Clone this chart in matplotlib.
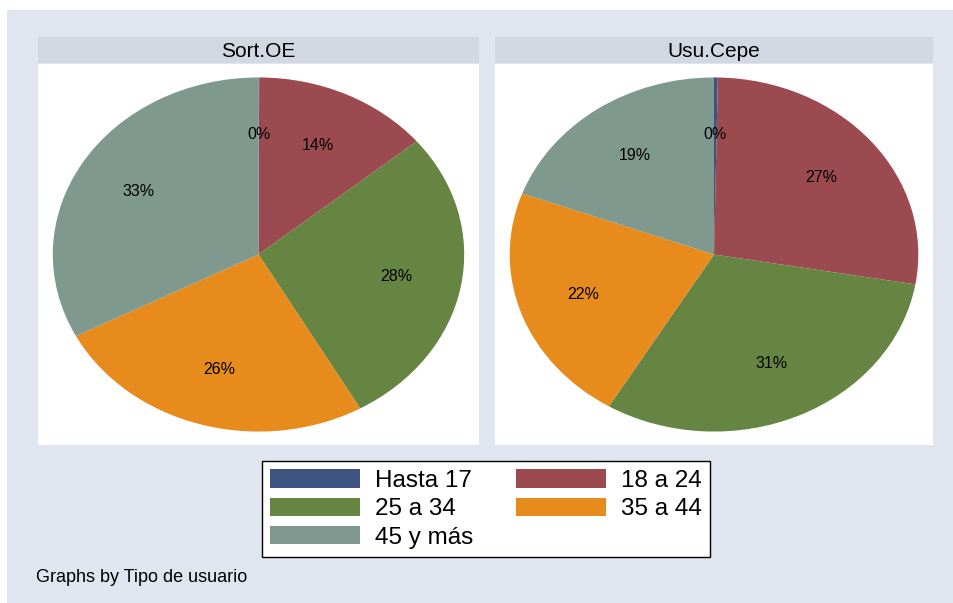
import matplotlib
matplotlib.use("Agg")
import matplotlib.pyplot as plt
from matplotlib.patches import Rectangle, Patch

plt.rcParams['font.family'] = ['Liberation Sans', 'DejaVu Sans']

groups = ["Sort.OE", "Usu.Cepe"]
age_labels = ["Hasta 17", "18 a 24", "25 a 34", "35 a 44", "45 y más"]
sort_oe = [0.05, 13.9, 27.8, 25.6, 32.6]
usu_cepe = [0.3, 27.4, 30.9, 22.0, 19.4]
colors = ["#3d5480", "#9b4a50", "#668542", "#e68b1c", "#7f998f"]

W, H = 954, 603
bg = "#e0e5ef"
strip_col = "#d2d7e2"

fig = plt.figure(figsize=(W / 100, H / 100), dpi=100, facecolor="white")
# outer graph region
fig.add_artist(Rectangle((7 / W, 0), 1 - 7 / W, 1 - 10 / H,
                         transform=fig.transFigure, facecolor=bg,
                         edgecolor="none", zorder=-10))

def px_axes(x0, y0, x1, y1):
    return fig.add_axes([x0 / W, 1 - y1 / H, (x1 - x0) / W, (y1 - y0) / H])

panels = [(38, 479, sort_oe), (495, 933, usu_cepe)]
for (x0, x1, vals), name in zip(panels, groups):
    strip = px_axes(x0, 37, x1, 63)
    strip.set_facecolor(strip_col)
    strip.set_xticks([])
    strip.set_yticks([])
    for s in strip.spines.values():
        s.set_visible(False)
    strip.text(0.5, 0.45, name, ha="center", va="center", fontsize=15,
               transform=strip.transAxes)

    ax = px_axes(x0, 64, x1, 445)
    ax.pie(vals, colors=colors, startangle=90, counterclock=False,
           autopct=lambda p: f"{p:.0f}%", pctdistance=0.68,
           wedgeprops=dict(linewidth=0),
           textprops=dict(fontsize=11.5, color="black"))
    ax.set_aspect("auto")
    ax.set_frame_on(True)
    for s in ax.spines.values():
        s.set_visible(False)
    ax.set_facecolor("white")
    ax.set_xlim(-1.072, 1.072)
    ax.set_ylim(-1.076, 1.076)

handles = [Patch(facecolor=c, edgecolor="none", label=l)
           for c, l in zip(colors, age_labels)]
order = [0, 2, 4, 1, 3]
leg = fig.legend([handles[i] for i in order], [age_labels[i] for i in order],
                 ncol=2, loc="upper left",
                 bbox_to_anchor=(262 / W, 1 - 461 / H),
                 fontsize=17.5, frameon=True, fancybox=False, shadow=False,
                 borderaxespad=0, borderpad=0.34, handlelength=3.7,
                 handleheight=0.78, handletextpad=0.62, columnspacing=1.75,
                 labelspacing=0.24)
leg.get_frame().set_edgecolor("black")
leg.get_frame().set_linewidth(1.0)
leg.get_frame().set_facecolor("white")
leg.get_frame().set_alpha(1)

fig.text(36 / W, 1 - 578 / H, "Graphs by Tipo de usuario", fontsize=13,
         ha="left", va="center")

fig.savefig("out.png", dpi=100, facecolor="white")
